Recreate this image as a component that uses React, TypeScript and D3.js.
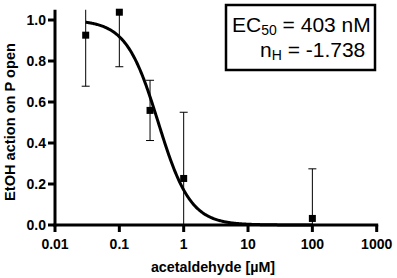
import React from "react";
import * as d3 from "d3";

const concentrations = [0.03, 0.1, 0.3, 1, 100];
const means = [0.926, 1.038, 0.559, 0.227, 0.032];
const errors = [0.249, 0.266, 0.147, 0.323, 0.242];
const xTicks = [0.01, 0.1, 1, 10, 100, 1000];
const xTickLabels = ["0.01", "0.1", "1", "10", "100", "1000"];
const yTicks = [0, 0.2, 0.4, 0.6, 0.8, 1.0];
const EC50 = 0.403;
const HILL = -1.738;
const FIT_TOP = 1;
const FIT_BOTTOM = 0;
const fitRange = [0.03, 100];

const W = 397;
const H = 278;
const FONT = "'Liberation Sans', Arial, Helvetica, sans-serif";

export default function App() {
  const x = d3.scaleLog().domain([0.01, 1000]).range([55, 376.7]);
  const y = d3.scaleLinear().domain([0, 1.05]).range([225, 9.75]);

  const curvePts: [number, number][] = [];
  const n = 300;
  const lo = Math.log10(fitRange[0]);
  const hi = Math.log10(fitRange[1]);
  for (let i = 0; i <= n; i++) {
    const c = Math.pow(10, lo + ((hi - lo) * i) / n);
    const v = FIT_BOTTOM + (FIT_TOP - FIT_BOTTOM) / (1 + Math.pow(c / EC50, -HILL));
    curvePts.push([c, v]);
  }
  const line = d3
    .line<[number, number]>()
    .x((d) => x(d[0]))
    .y((d) => y(d[1]))
    .curve(d3.curveLinear);

  const [yMin, yMax] = y.domain();

  return (
    <svg
      width={W}
      height={H}
      style={{ position: "absolute", left: 0, top: 0, background: "#fff" }}
      fontFamily={FONT}
    >
      <rect x={0} y={0} width={W} height={H} fill="#fff" />
      {/* fit curve */}
      <path d={line(curvePts) || ""} fill="none" stroke="#000" strokeWidth={3} />
      {/* error bars */}
      {concentrations.map((c, i) => {
        const top = means[i] + errors[i];
        const bot = means[i] - errors[i];
        const t = Math.min(top, yMax);
        const b = Math.max(bot, yMin);
        const cx = x(c);
        return (
          <g key={"e" + i}>
            <line x1={cx} x2={cx} y1={y(t)} y2={y(b)} stroke="#000" strokeWidth={1} />
            {top <= yMax && (
              <line x1={cx - 4} x2={cx + 4} y1={y(top)} y2={y(top)} stroke="#000" strokeWidth={1} />
            )}
            {bot >= yMin && (
              <line x1={cx - 4} x2={cx + 4} y1={y(bot)} y2={y(bot)} stroke="#000" strokeWidth={1} />
            )}
          </g>
        );
      })}
      {/* markers */}
      {concentrations.map((c, i) => (
        <rect key={"m" + i} x={x(c) - 3.5} y={y(means[i]) - 3.5} width={7} height={7} fill="#000" />
      ))}
      {/* axes */}
      <line x1={55} x2={55} y1={y(yMax)} y2={y(0) + 1.5} stroke="#000" strokeWidth={3} />
      <line x1={x(0.01) - 1.5} x2={x(1000) + 1.5} y1={y(0)} y2={y(0)} stroke="#000" strokeWidth={3} />
      {yTicks.map((t) => (
        <g key={"yt" + t}>
          <line x1={48} x2={55} y1={y(t)} y2={y(t)} stroke="#000" strokeWidth={3} />
          <text
            x={46}
            y={y(t)}
            dy="0.35em"
            textAnchor="end"
            fontSize={14}
            fontWeight="bold"
          >
            {t.toFixed(1)}
          </text>
        </g>
      ))}
      {xTicks.map((t, i) => (
        <g key={"xt" + t}>
          <line x1={x(t)} x2={x(t)} y1={y(0)} y2={y(0) + 7} stroke="#000" strokeWidth={3} />
          <text x={x(t)} y={248.5} textAnchor="middle" fontSize={14} fontWeight="bold">
            {xTickLabels[i]}
          </text>
        </g>
      ))}
      {/* axis titles */}
      <text
        transform="translate(15,122) rotate(-90)"
        textAnchor="middle"
        fontSize={14.6}
        fontWeight="bold"
      >
        EtOH action on P open
      </text>
      <text x={213} y={272} textAnchor="middle" fontSize={14.3} fontWeight="bold">
        acetaldehyde [µM]
      </text>
      {/* annotation box */}
      <rect x={226} y={5} width={149} height={65} fill="#fff" stroke="#000" strokeWidth={2.5} />
      <text x={232} y={32} fontSize={21}>
        EC<tspan fontSize={14} dy={3}>50</tspan>
        <tspan dy={-3}> = 403 nM</tspan>
      </text>
      <text x={260} y={57} fontSize={21}>
        n<tspan fontSize={14} dy={3}>H</tspan>
        <tspan dy={-3}> = -1.738</tspan>
      </text>
    </svg>
  );
}
